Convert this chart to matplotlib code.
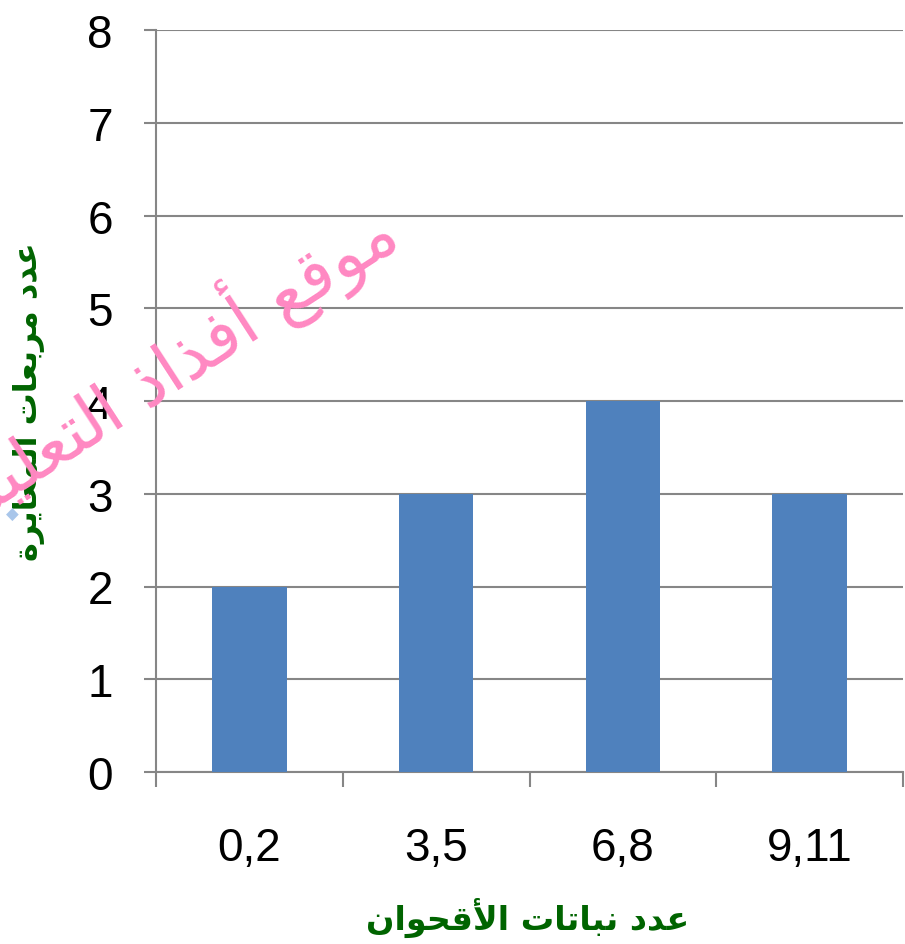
import matplotlib
matplotlib.use("Agg")
import matplotlib.pyplot as plt

categories = ["0,2", "3,5", "6,8", "9,11"]
counts = [2, 3, 4, 3]
y_ticks = [0, 1, 2, 3, 4, 5, 6, 7, 8]
x_title = "عدد نباتات الأقحوان"
y_title = "عدد مربعات المعايرة"
watermark = "موقع أفذاذ التعليمي"

# matplotlib has no Arabic shaping, so map letters to presentation forms by hand
# forms: (isolated, final, initial, medial); None = letter does not join forward
FORMS = {
    "ا": ("\uFE8D", "\uFE8E", None, None),
    "أ": ("\uFE83", "\uFE84", None, None),
    "ب": ("\uFE8F", "\uFE90", "\uFE91", "\uFE92"),
    "ة": ("\uFE93", "\uFE94", None, None),
    "ت": ("\uFE95", "\uFE96", "\uFE97", "\uFE98"),
    "ح": ("\uFEA1", "\uFEA2", "\uFEA3", "\uFEA4"),
    "د": ("\uFEA9", "\uFEAA", None, None),
    "ذ": ("\uFEAB", "\uFEAC", None, None),
    "ر": ("\uFEAD", "\uFEAE", None, None),
    "ع": ("\uFEC9", "\uFECA", "\uFECB", "\uFECC"),
    "ف": ("\uFED1", "\uFED2", "\uFED3", "\uFED4"),
    "ق": ("\uFED5", "\uFED6", "\uFED7", "\uFED8"),
    "ل": ("\uFEDD", "\uFEDE", "\uFEDF", "\uFEE0"),
    "م": ("\uFEE1", "\uFEE2", "\uFEE3", "\uFEE4"),
    "ن": ("\uFEE5", "\uFEE6", "\uFEE7", "\uFEE8"),
    "و": ("\uFEED", "\uFEEE", None, None),
    "ي": ("\uFEF1", "\uFEF2", "\uFEF3", "\uFEF4"),
}
LAM_ALEF = {"ا": ("\uFEFB", "\uFEFC"), "أ": ("\uFEF7", "\uFEF8")}


def shape(text):
    # merge lam + alef into ligatures first
    chars = []
    i = 0
    while i < len(text):
        if text[i] == "ل" and i + 1 < len(text) and text[i + 1] in LAM_ALEF:
            chars.append(("LA", text[i + 1]))
            i += 2
        else:
            chars.append((text[i], None))
            i += 1

    def joins_forward(c):
        if c[0] == "LA":
            return False
        f = FORMS.get(c[0])
        return f is not None and f[2] is not None

    def joins_back(c):
        return c[0] == "LA" or c[0] in FORMS

    out = []
    for k, c in enumerate(chars):
        prev = chars[k - 1] if k > 0 else None
        nxt = chars[k + 1] if k + 1 < len(chars) else None
        from_prev = prev is not None and joins_forward(prev) and joins_back(c)
        if c[0] == "LA":
            isol, fina = LAM_ALEF[c[1]]
            out.append(fina if from_prev else isol)
            continue
        f = FORMS.get(c[0])
        if f is None:
            out.append(c[0])
            continue
        to_next = joins_forward(c) and nxt is not None and joins_back(nxt)
        if from_prev and to_next:
            out.append(f[3])
        elif from_prev:
            out.append(f[1])
        elif to_next:
            out.append(f[2])
        else:
            out.append(f[0])
    return "".join(out)[::-1]


grid_col = "#868686"
fig = plt.figure(figsize=(9.05, 9.45), dpi=100)
ax = fig.add_axes([156 / 905, 1 - 773 / 945, 747 / 905, 742 / 945])

x = list(range(len(categories)))
ax.bar(x, counts, width=0.4, color="#4F81BD", zorder=3)

ax.set_xlim(-0.5, len(categories) - 0.5)
ax.set_ylim(0, 8)
ax.set_yticks(y_ticks)
ax.set_yticklabels([str(v) for v in y_ticks], fontsize=33, family="Liberation Sans")
ax.yaxis.grid(True, color=grid_col, linewidth=1.5, zorder=0)
ax.tick_params(axis="y", length=9, width=1.5, color=grid_col, pad=22)

ax.set_xticks([v - 0.5 for v in range(len(categories) + 1)])
ax.set_xticklabels([])
ax.set_xticks(x, minor=True)
ax.set_xticklabels(categories, minor=True, fontsize=33, family="Liberation Sans")
ax.tick_params(axis="x", which="major", length=11, width=1.5, color=grid_col)
ax.tick_params(axis="x", which="minor", length=0, pad=39)

for s in ["top", "right"]:
    ax.spines[s].set_visible(False)
for s in ["left", "bottom"]:
    ax.spines[s].set_color(grid_col)
    ax.spines[s].set_linewidth(1.5)

green = "#006400"
fig.text(0.583, 1 - 918 / 945, shape(x_title), color=green, fontsize=24, fontweight="bold",
         family="DejaVu Sans", ha="center", va="center")
fig.text(0.032, 0.575, shape(y_title), color=green, fontsize=23, fontweight="bold",
         family="DejaVu Sans", ha="center", va="center", rotation=90)

# pink watermark, runs off the left edge
fig.text(388 / 905, 1 - 222 / 945, shape(watermark), color="#FF88C2", fontsize=50,
         family="DejaVu Sans", ha="right", va="center", rotation=33,
         rotation_mode="anchor")

fig.text(12 / 905, 1 - 515 / 945, "◆", color="#A9C6EA", fontsize=12,
         ha="center", va="center")

fig.savefig("out.png", dpi=100)
